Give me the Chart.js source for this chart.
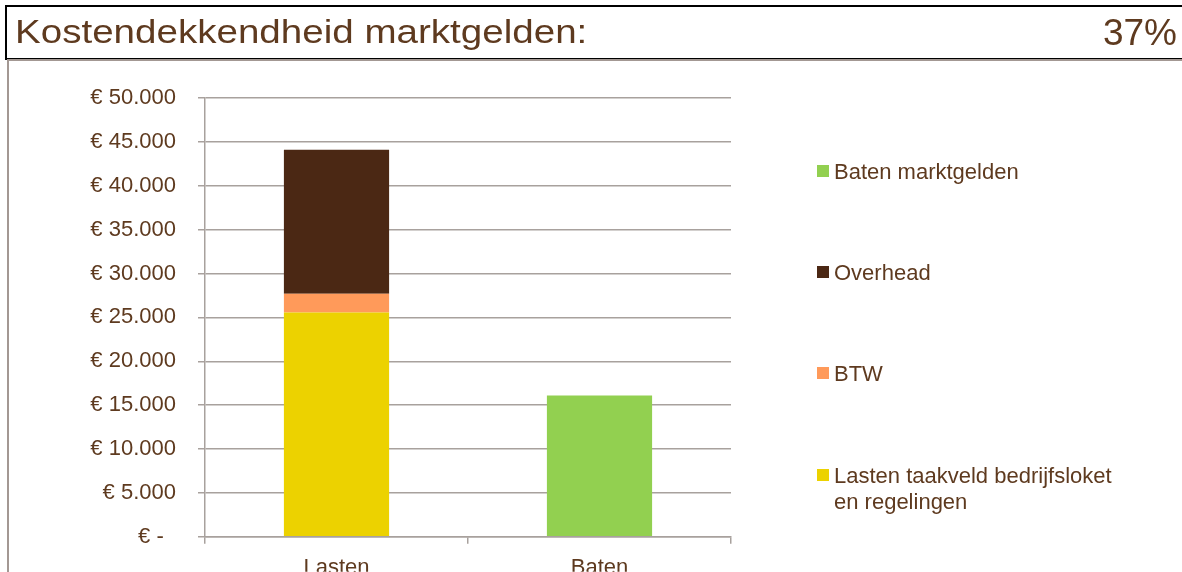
<!DOCTYPE html>
<html>
<head>
<meta charset="utf-8">
<script src="https://cdn.jsdelivr.net/npm/chart.js@4/dist/chart.umd.min.js"></script>
<style>
  html, body { margin: 0; padding: 0; background: #fff; overflow: hidden; }
  body { width: 1182px; height: 572px; position: relative; font-family: "Liberation Sans", Arial, sans-serif; color: #5e3a1f; }
  #wrap { position: absolute; left: 0; top: 0; width: 1182px; height: 572px; }
  #titleBox { position: absolute; left: 5px; top: 5px; width: 1200px; height: 51px; border: 2px solid #000; border-right: none; }
  #title { position: absolute; left: 15px; top: 11px; font-size: 34px; line-height: 40px; white-space: nowrap; transform: scaleX(1.134); transform-origin: left center; }
  #pct { position: absolute; right: 5px; top: 11px; font-size: 37px; line-height: 44px; }
  #hline { position: absolute; left: 7px; top: 59px; width: 1175px; height: 2px; background: #a39893; }
  #vline { position: absolute; left: 7px; top: 59px; width: 2px; height: 513px; background: #a39893; }
  .lg { position: absolute; left: 817px; font-size: 22px; line-height: 26px; white-space: pre-line; }
  .lg i { position: absolute; left: 0; top: 6px; width: 12px; height: 12px; }
  .lg span { display: block; margin-left: 17px; }
</style>
</head>
<body>
<div id="wrap"><canvas id="kostenChart"></canvas></div>
<div id="titleBox"></div>
<div id="title">Kostendekkendheid marktgelden:</div>
<div id="pct">37%</div>
<div id="hline"></div>
<div id="vline"></div>
<div id="legend"></div>

<script>
// gegevens uit de grafiek
var categories = ['Lasten', 'Baten'];
var lastenTaakveld = [25550, null];
var btw = [2150, null];
var overhead = [16400, null];
var batenMarktgelden = [null, 16100];
var yTicks = [0, 5000, 10000, 15000, 20000, 25000, 30000, 35000, 40000, 45000, 50000];

var textColor = '#5e3a1f';
var gridColor = '#a8a19d';

function euro(v) {
	if (v === 0) return '€ -  ';
	return '€ ' + String(v).replace(/\B(?=(\d{3})+(?!\d))/g, '.');
}

var datasets = [
	{ label : 'Lasten taakveld bedrijfsloket\nen regelingen', data : lastenTaakveld, backgroundColor : '#ecd200' },
	{ label : 'BTW', data : btw, backgroundColor : '#ff9a5a' },
	{ label : 'Overhead', data : overhead, backgroundColor : '#4b2814' },
	{ label : 'Baten marktgelden', data : batenMarktgelden, backgroundColor : '#92d050' }
];

var ctx = document.getElementById('kostenChart').getContext('2d');
var kostenChart = new Chart(ctx, {
	type : 'bar',
	data : {
		labels : categories,
		datasets : datasets.map(function(d) {
			return {
				label : d.label,
				data : d.data,
				backgroundColor : d.backgroundColor,
				borderWidth : 0,
				categoryPercentage : 1,
				barPercentage : 0.4
			};
		})
	},
	options : {
		responsive : true,
		maintainAspectRatio : false,
		animation : false,
		layout : {
			padding : { left : 0, top : 98, right : 451, bottom : 0 }
		},
		plugins : {
			legend : { display : false },
			tooltip : { enabled : false }
		},
		scales : {
			x : {
				stacked : true,
				afterFit : function(scale) { scale.height = 35; },
				grid : {
					drawOnChartArea : false,
					drawTicks : true,
					tickLength : 7,
					color : gridColor,
					lineWidth : 1.5
				},
				border : { color : gridColor, width : 1.5 },
				ticks : {
					color : textColor,
					padding : 11,
					font : { family : '"Liberation Sans", Arial, sans-serif', size : 22 }
				}
			},
			y : {
				stacked : true,
				min : 0,
				max : 50000,
				afterFit : function(scale) { scale.width = 205; },
				afterBuildTicks : function(scale) {
					scale.ticks = yTicks.map(function(v) { return { value : v }; });
				},
				grid : {
					color : gridColor,
					lineWidth : 1.5,
					tickLength : 7
				},
				border : { color : gridColor, width : 1.5 },
				ticks : {
					color : textColor,
					padding : 22,
					font : { family : '"Liberation Sans", Arial, sans-serif', size : 22 },
					callback : function(value) { return euro(value); }
				}
			}
		}
	}
});

// legenda (omgekeerde volgorde, zoals in Excel)
var legend = document.getElementById('legend');
datasets.slice().reverse().forEach(function(d, i) {
	var item = document.createElement('div');
	item.className = 'lg';
	item.style.top = (158.7 + i * 101.3) + 'px';
	var box = document.createElement('i');
	box.style.background = d.backgroundColor;
	var txt = document.createElement('span');
	txt.textContent = d.label;
	item.appendChild(box);
	item.appendChild(txt);
	legend.appendChild(item);
});
</script>
</body>
</html>
